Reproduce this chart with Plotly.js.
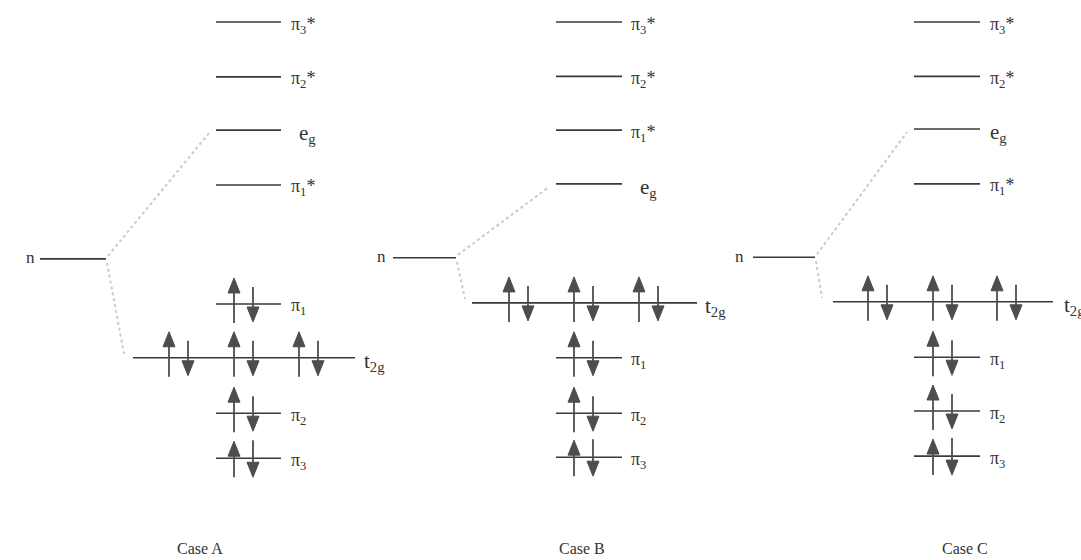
<!DOCTYPE html>
<html><head><meta charset="utf-8">
<script src="https://cdn.plot.ly/plotly-3.0.1.min.js"></script>
<style>html,body{margin:0;padding:0;background:#fff}#chart{width:1081px;height:560px}</style>
</head><body><div id="chart"></div>
<script>
// ---- data ----
const caseNames = ['Case A', 'Case B', 'Case C'];
const levelKeys = ['pi3*', 'pi2*', 'pi1*', 'eg', 'n', 't2g', 'pi1', 'pi2', 'pi3'];
const levelLabels = ['π<sub>3</sub>*', 'π<sub>2</sub>*', 'π<sub>1</sub>*', 'e<sub>g</sub>', 'n', 't<sub>2g</sub>', 'π<sub>1</sub>', 'π<sub>2</sub>', 'π<sub>3</sub>'];
// relative orbital energies (arbitrary units)
const energyA = [10.0, 8.99, 7.0, 8.01, 5.64, 3.82, 4.81, 2.80, 1.97];
const energyB = [10.0, 9.00, 8.01, 7.02, 5.66, 4.83, 3.82, 2.80, 1.99];
const energyC = [10.0, 9.00, 7.02, 8.03, 5.67, 4.85, 3.83, 2.84, 2.01];
// electrons in each level
const electronsA = [0, 0, 0, 0, 0, 6, 2, 2, 2];
const electronsB = [0, 0, 0, 0, 0, 6, 2, 2, 2];
const electronsC = [0, 0, 0, 0, 0, 6, 2, 2, 2];

// ---- layout geometry (pixels along x; energy axis handled by plotly) ----
const energies = [energyA, energyB, energyC];
const electrons = [electronsA, electronsB, electronsC];
const geo = [
  {lig: [216, 281], n: [40, 106], t: [133, 355], ups: [169, 234, 299], ligUp: 234, lab: 289, egLab: 297, tLab: 362, nLab: 37, caseX: 200, dn: 124},
  {lig: [556, 622], n: [393, 456], t: [472, 697], ups: [509, 574, 639], ligUp: 574, lab: 629, egLab: 638, tLab: 703, nLab: 388, caseX: 582, dn: 465},
  {lig: [914, 980], n: [753, 815], t: [833, 1053], ups: [868, 933, 997], ligUp: 933, lab: 988, egLab: 988, tLab: 1062, nLab: 746, caseX: 965, dn: 822}
];
const PX = 54.33; // pixels per energy unit
const Y0 = 5.3 / PX, Y1 = 565.3 / PX;
const p = v => v / PX;

const lineColor = '#3a3a3a', arrowColor = '#4d4d4d', textColor = '#333333';
const traces = [];
const annotations = [];
const font = 'Liberation Serif, Times New Roman, serif';

const lvlX = [], lvlY = [];
const dotX = [], dotY = [];
const shaftX = [], shaftY = [];
const headX = [], headY = [];

function addPair(x, E, short) {
  const up = x, dn = x + 19;
  const top = short ? 17 : 26, bot = 19;
  const dTop = short ? 18 : 17, dBot = short ? 19 : 18;
  shaftX.push(up, up, null); shaftY.push(E - p(bot), E + p(top) - p(6), null);
  headX.push(up - 6, up, up + 6, up - 6, null);
  headY.push(E + p(top) - p(15), E + p(top), E + p(top) - p(15), E + p(top) - p(15), null);
  shaftX.push(dn, dn, null); shaftY.push(E + p(dTop), E - p(dBot) + p(6), null);
  headX.push(dn - 6, dn, dn + 6, dn - 6, null);
  headY.push(E - p(dBot) + p(15), E - p(dBot), E - p(dBot) + p(15), E - p(dBot) + p(15), null);
}

caseNames.forEach((cname, c) => {
  const g = geo[c], en = energies[c], el = electrons[c];
  levelKeys.forEach((k, i) => {
    const E = en[i];
    let x0, x1;
    if (k === 'n') { x0 = g.n[0]; x1 = g.n[1]; }
    else if (k === 't2g') { x0 = g.t[0]; x1 = g.t[1]; }
    else { x0 = g.lig[0]; x1 = g.lig[1]; }
    lvlX.push(x0, x1, null); lvlY.push(E, E, null);
    // labels
    let lx, anchor = 'left', size = 18, yshift = -3;
    if (k === 'n') { lx = g.nLab; anchor = 'right'; yshift = 1; size = 17; }
    else if (k === 't2g') { lx = g.tLab; size = 21; yshift = -4; }
    else if (k === 'eg') { lx = g.egLab; size = 21; yshift = -4; }
    else lx = g.lab;
    annotations.push({x: lx, y: E, xref: 'x', yref: 'y', text: levelLabels[i], showarrow: false,
      xanchor: anchor, yanchor: 'middle', yshift: yshift,
      font: {family: font, size: size, color: textColor}});
    // electrons
    if (el[i] > 0) {
      if (k === 't2g') g.ups.slice(0, el[i] / 2).forEach(x => addPair(x, E, false));
      else addPair(g.ligUp, E, k === 'pi3');
    }
  });
  // dotted correlation lines
  const En = en[levelKeys.indexOf('n')], Eeg = en[levelKeys.indexOf('eg')], Et = en[levelKeys.indexOf('t2g')];
  dotX.push(g.n[1] + 2, g.lig[0] - 7, null); dotY.push(En + p(3), Eeg - p(3), null);
  dotX.push(g.n[1] + 1, g.dn, null); dotY.push(En - p(4), Et + p(4), null);
  annotations.push({x: g.caseX, y: p(565.3 - 548), xref: 'x', yref: 'y', text: cname, showarrow: false,
    xanchor: 'center', yanchor: 'middle', font: {family: font, size: 16, color: textColor}});
});

traces.push({x: dotX, y: dotY, mode: 'lines', line: {color: '#cacaca', width: 2, dash: 'dot'}, hoverinfo: 'skip'});
traces.push({x: lvlX, y: lvlY, mode: 'lines', line: {color: lineColor, width: 1.6}, hoverinfo: 'skip'});
traces.push({x: shaftX, y: shaftY, mode: 'lines', line: {color: arrowColor, width: 1.8}, hoverinfo: 'skip'});
traces.push({x: headX, y: headY, mode: 'lines', fill: 'toself', fillcolor: arrowColor, line: {color: arrowColor, width: 1}, hoverinfo: 'skip'});

const layout = {
  width: 1081, height: 560,
  margin: {l: 0, r: 0, t: 0, b: 0},
  paper_bgcolor: '#ffffff', plot_bgcolor: '#ffffff',
  showlegend: false,
  xaxis: {range: [0, 1081], visible: false, fixedrange: true},
  yaxis: {range: [Y0, Y1], visible: false, fixedrange: true},
  annotations: annotations
};
Plotly.newPlot('chart', traces, layout, {staticPlot: true, displayModeBar: false});
</script></body></html>
